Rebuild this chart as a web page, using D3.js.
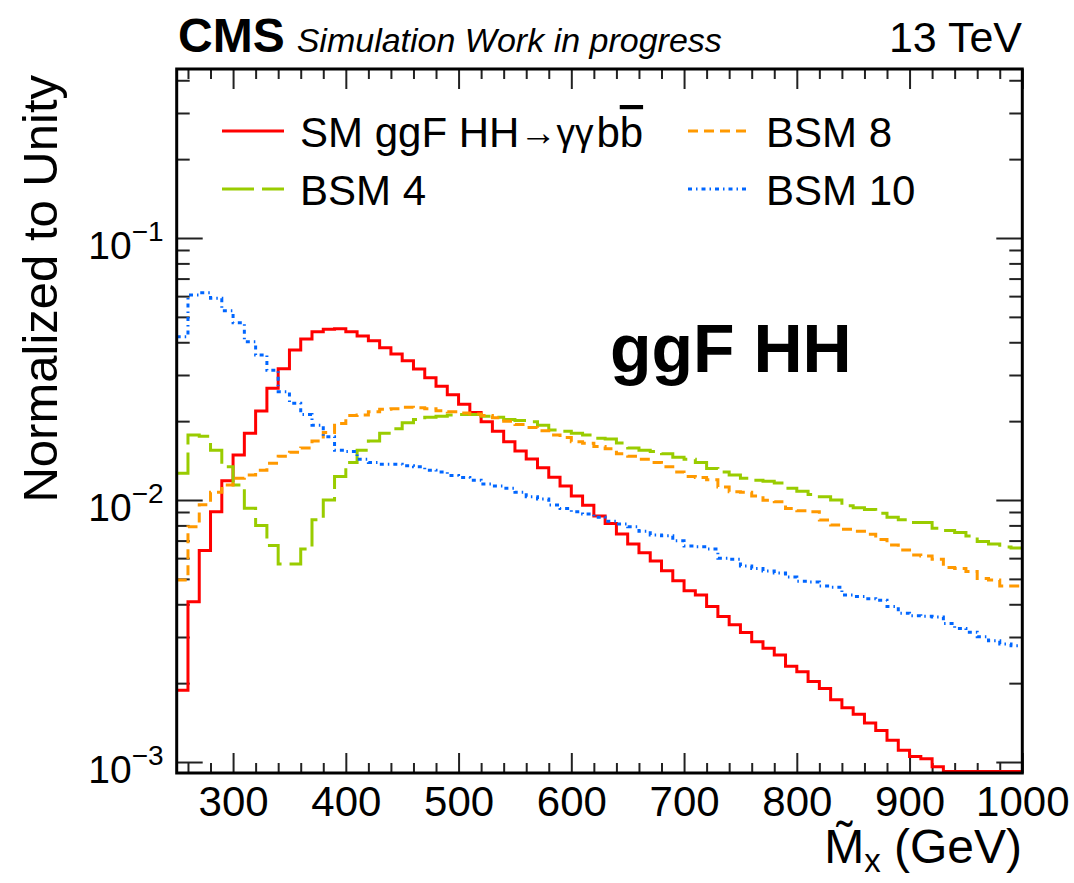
<!DOCTYPE html>
<html>
<head>
<meta charset="utf-8">
<script src="https://cdn.jsdelivr.net/npm/d3@7"></script>
<style>
  body { margin: 0; background: #fff; }
  svg { display: block; }
  text { font-family: "Liberation Sans", Arial, Helvetica, sans-serif; fill: #000; }
</style>
</head>
<body>
<svg id="chart" width="1074" height="883"></svg>
<script>
// Histogram binning: 10 GeV bins from 250 to 1000 GeV
const binEdges = d3.range(250, 1001, 10);

// Normalized distributions, one value per bin
const smHH = [
  0.00188, 0.00409, 0.00641, 0.00902, 0.01185, 0.01485, 0.01797, 0.02187, 0.02668, 0.0317,
  0.03736, 0.04114, 0.04389, 0.0448, 0.0450, 0.0439, 0.0423, 0.0405, 0.0381, 0.0361,
  0.0340, 0.0316, 0.0293, 0.0272, 0.0252, 0.0232, 0.0216, 0.0199, 0.0183, 0.0167,
  0.0154, 0.01434, 0.01328, 0.01222, 0.0113, 0.01035, 0.00954, 0.00869, 0.00814, 0.00741,
  0.00679, 0.00629, 0.00585, 0.00537, 0.00492, 0.0045, 0.00434, 0.00392, 0.00359, 0.00334,
  0.00312, 0.00288, 0.00272, 0.00256, 0.00232, 0.00221, 0.00203, 0.00191, 0.00173, 0.00161,
  0.00152, 0.00141, 0.00132, 0.00121, 0.00111, 0.00105, 0.00103, 0.00096, 0.00088, 0.00084,
  0.00079, 0.00075, 0.00071, 0.00067, 0.00063
];
const bsm8 = [
  0.00495, 0.0079, 0.0096, 0.0107, 0.0114, 0.0121, 0.01245, 0.0130, 0.0138, 0.0147,
  0.0152, 0.0158, 0.0168, 0.0181, 0.0196, 0.0210, 0.0211, 0.0217, 0.0222, 0.0223,
  0.0226, 0.0225, 0.0223, 0.0219, 0.0217, 0.0215, 0.0213, 0.0210, 0.0206, 0.0200,
  0.0194, 0.0189, 0.0184, 0.0177, 0.01734, 0.0167, 0.01645, 0.0160, 0.0157, 0.0150,
  0.0147, 0.0143, 0.0139, 0.0134, 0.0128, 0.0123, 0.01218, 0.01194, 0.0112, 0.01075,
  0.0107, 0.01035, 0.00998, 0.00985, 0.00929, 0.00910, 0.00902, 0.00838, 0.00803, 0.00774,
  0.00760, 0.0074, 0.00706, 0.00673, 0.00645, 0.00617, 0.00611, 0.00594, 0.00552, 0.00548,
  0.00533, 0.00502, 0.00495, 0.00470, 0.00470
];
const bsm4 = [
  0.01265, 0.0177, 0.0175, 0.0155, 0.0134, 0.0114, 0.0093, 0.0080, 0.0067, 0.0057,
  0.0057, 0.0065, 0.0084, 0.0100, 0.0123, 0.0139, 0.0155, 0.0168, 0.0180, 0.0187,
  0.0197, 0.0203, 0.0207, 0.0209, 0.0211, 0.0212, 0.0212, 0.0209, 0.0207, 0.0203,
  0.0201, 0.0199, 0.0193, 0.0185, 0.0183, 0.0180, 0.0177, 0.0172, 0.0171, 0.0165,
  0.0158, 0.0155, 0.0153, 0.0150, 0.01455, 0.0143, 0.0139, 0.0132, 0.0128, 0.01245,
  0.0121, 0.0119, 0.0118, 0.0116, 0.0111, 0.0108, 0.0105, 0.0103, 0.0100, 0.0095,
  0.00935, 0.0092, 0.0089, 0.0086, 0.0084, 0.0082, 0.0082, 0.0078, 0.00765, 0.00752,
  0.00729, 0.00694, 0.0068, 0.00662, 0.00656
];
const bsm10 = [
  0.0420, 0.0606, 0.0618, 0.0589, 0.0528, 0.0475, 0.0402, 0.0358, 0.0313, 0.0259,
  0.0234, 0.0212, 0.0193, 0.01745, 0.0155, 0.0153, 0.0143, 0.0139, 0.0137, 0.0137,
  0.0135, 0.0134, 0.0130, 0.0128, 0.0124, 0.0122, 0.0119, 0.0115, 0.0113, 0.0111,
  0.0107, 0.0103, 0.0101, 0.00957, 0.00929, 0.00902, 0.00885, 0.00859, 0.0083, 0.0081,
  0.0079, 0.0076, 0.00736, 0.0073, 0.00699, 0.00667, 0.00663, 0.0065, 0.0060, 0.00594,
  0.0056, 0.00548, 0.00536, 0.00526, 0.00508, 0.0049, 0.00487, 0.0047, 0.00465, 0.00434,
  0.00428, 0.0042, 0.00414, 0.00392, 0.0037, 0.00362, 0.0036, 0.00358, 0.00338, 0.00323,
  0.00313, 0.00301, 0.0029, 0.00282, 0.00278
];

// Axis ticks and labels
const xMajorTicks = [300, 400, 500, 600, 700, 800, 900, 1000];
const xMinorTicks = [260, 280, 320, 340, 360, 380, 420, 440, 460, 480, 520, 540, 560, 580,
  620, 640, 660, 680, 720, 740, 760, 780, 820, 840, 860, 880, 920, 940, 960, 980];
const yMajorTicks = [0.1, 0.01, 0.001];
const yTickExponents = ["\u22121", "\u22122", "\u22123"];
const yMinorTicks = [0.002, 0.003, 0.004, 0.005, 0.006, 0.007, 0.008, 0.009,
  0.02, 0.03, 0.04, 0.05, 0.06, 0.07, 0.08, 0.09, 0.2, 0.3, 0.4];

const series = [
  { name: "sm",    values: smHH,  color: "#ff0000", dash: null },
  { name: "bsm4",  values: bsm4,  color: "#99cc00", dash: "32 8" },
  { name: "bsm8",  values: bsm8,  color: "#ff9900", dash: "10 6" },
  { name: "bsm10", values: bsm10, color: "#0066ff", dash: "4 4 1.5 4" }
];

const frame = { left: 176.7, right: 1022.3, top: 69, bottom: 773 };
const yMin = 9.08e-4, yMax = 0.4416;

const svg = d3.select("#chart");
const x = d3.scaleLinear().domain([250, 1000]).range([frame.left, frame.right]);
const y = d3.scaleLog().domain([yMin, yMax]).range([frame.bottom, frame.top]);

// Step-shaped outline of a histogram; bins under the y range sit on the frame floor
function stepPath(values) {
  let d = "";
  values.forEach((v, i) => {
    const yy = v < yMin ? frame.bottom - 1.5 : y(v);
    const x0 = x(binEdges[i]), x1 = x(binEdges[i + 1]);
    d += (i === 0 ? "M" : "L") + x0 + "," + yy + "L" + x1 + "," + yy;
  });
  return d;
}

// Axes with ROOT-style inward ticks on all four sides
function styleAxis(g) {
  g.select(".domain").remove();
  g.selectAll(".tick line").attr("stroke", "#222").attr("stroke-width", 2);
}
const noLabel = () => "";

svg.append("g").attr("transform", `translate(0,${frame.bottom})`)
  .call(d3.axisBottom(x).tickValues(xMinorTicks).tickSize(-10).tickFormat(noLabel)).call(styleAxis);
svg.append("g").attr("transform", `translate(0,${frame.top})`)
  .call(d3.axisTop(x).tickValues(xMinorTicks).tickSize(-10).tickFormat(noLabel)).call(styleAxis);
svg.append("g").attr("transform", `translate(0,${frame.top})`)
  .call(d3.axisTop(x).tickValues(xMajorTicks).tickSize(-20).tickFormat(noLabel)).call(styleAxis);
const xAxis = svg.append("g").attr("transform", `translate(0,${frame.bottom})`)
  .call(d3.axisBottom(x).tickValues(xMajorTicks).tickSize(-20).tickFormat(d3.format("d"))).call(styleAxis);
xAxis.selectAll(".tick text")
  .attr("y", 43).attr("dy", 0)
  .attr("font-size", 42).attr("font-family", "Liberation Sans, Arial, sans-serif");

svg.append("g").attr("transform", `translate(${frame.left},0)`)
  .call(d3.axisLeft(y).tickValues(yMinorTicks).tickSize(-13).tickFormat(noLabel)).call(styleAxis);
svg.append("g").attr("transform", `translate(${frame.right},0)`)
  .call(d3.axisRight(y).tickValues(yMinorTicks).tickSize(-13).tickFormat(noLabel)).call(styleAxis);
svg.append("g").attr("transform", `translate(${frame.right},0)`)
  .call(d3.axisRight(y).tickValues(yMajorTicks).tickSize(-26).tickFormat(noLabel)).call(styleAxis);
const yAxis = svg.append("g").attr("transform", `translate(${frame.left},0)`)
  .call(d3.axisLeft(y).tickValues(yMajorTicks).tickSize(-26).tickFormat(noLabel)).call(styleAxis);
yAxis.selectAll(".tick text").each(function (d, i) {
  const t = d3.select(this)
    .attr("x", -13).attr("dy", 0).attr("y", 20)
    .attr("text-anchor", "end")
    .attr("font-size", 39).attr("font-family", "Liberation Sans, Arial, sans-serif");
  t.append("tspan").text("10");
  t.append("tspan").attr("dy", -18).attr("font-size", 28).text(yTickExponents[i]);
});

// Histograms
svg.append("g").attr("fill", "none")
  .selectAll("path").data(series).join("path")
  .attr("d", s => stepPath(s.values))
  .attr("stroke", s => s.color)
  .attr("stroke-width", 3)
  .attr("stroke-dasharray", s => s.dash);

// Frame
svg.append("rect")
  .attr("x", frame.left).attr("y", frame.top)
  .attr("width", frame.right - frame.left).attr("height", frame.bottom - frame.top)
  .attr("fill", "none").attr("stroke", "#000").attr("stroke-width", 3);

// Legend
const legendRows = [
  { s: series[0], lx: 222, ty: 147, label: "sm" },
  { s: series[2], lx: 688, ty: 147, label: "BSM 8" },
  { s: series[1], lx: 222, ty: 205, label: "BSM 4" },
  { s: series[3], lx: 688, ty: 205, label: "BSM 10" }
];
legendRows.forEach(r => {
  svg.append("line")
    .attr("x1", r.lx).attr("x2", r.lx + 62)
    .attr("y1", r.ty - 16).attr("y2", r.ty - 16)
    .attr("stroke", r.s.color).attr("stroke-width", 3)
    .attr("stroke-dasharray", r.s.dash);
  const t = svg.append("text").attr("x", r.lx + 78).attr("y", r.ty).attr("font-size", 42);
  if (r.label === "sm") {
    t.append("tspan").text("SM ggF HH");
    t.append("tspan").attr("font-size", 37).attr("dy", -2).text("\u2192\u03b3\u03b3");
    t.append("tspan").attr("dy", 2).attr("dx", 3).text("b");
    t.append("tspan").style("text-decoration", "overline").text("b");
  } else {
    t.text(r.label);
  }
});

// Header
const header = svg.append("text").attr("x", 178).attr("y", 52);
header.append("tspan").attr("font-weight", "bold").attr("font-size", 48).text("CMS");
header.append("tspan").attr("font-style", "italic").attr("font-size", 34).attr("dx", 12)
  .text("Simulation Work in progress");
svg.append("text").attr("x", 1022).attr("y", 52).attr("text-anchor", "end")
  .attr("font-size", 43).text("13 TeV");

// Process label
svg.append("text").attr("x", 610).attr("y", 372)
  .attr("font-weight", "bold").attr("font-size", 68).text("ggF HH");

// Axis titles
const xt = svg.append("text").attr("x", 1022).attr("y", 863).attr("text-anchor", "end").attr("font-size", 48);
xt.append("tspan").text("M\u0303");
xt.append("tspan").attr("font-size", 33).attr("dy", 9).text("x");
xt.append("tspan").attr("dy", -9).text(" (GeV)");

svg.append("text")
  .attr("transform", "translate(57,75) rotate(-90)")
  .attr("text-anchor", "end").attr("font-size", 49)
  .text("Normalized to Unity");
</script>
</body>
</html>
